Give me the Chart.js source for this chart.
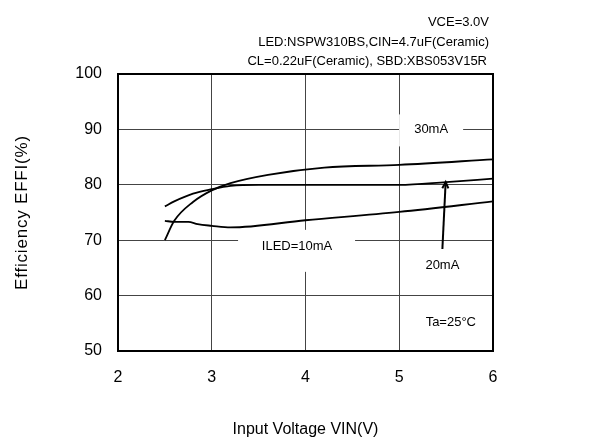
<!DOCTYPE html>
<html>
<head>
<meta charset="utf-8">
<script src="https://cdn.jsdelivr.net/npm/chart.js@4.4.1/dist/chart.umd.min.js"></script>
<style>
  html,body{margin:0;padding:0;background:#fff;}
  #wrap{width:606px;height:440px;position:relative;}
</style>
</head>
<body>
<div id="wrap"><canvas id="c" width="606" height="440"></canvas></div>
<script>
// ---- data ----
const xTicks = [2, 3, 4, 5, 6];
const yTicks = [50, 60, 70, 80, 90, 100];

const vin30 = [2.5, 2.6, 2.8, 3.0, 3.2, 3.6, 4.2, 5.0, 6.0];
const eff30 = [70.0, 73.5, 76.9, 79.0, 80.3, 81.8, 83.1, 83.6, 84.6];

const vin20 = [2.5, 2.6, 2.8, 3.0, 3.2, 3.5, 4.0, 5.0, 5.5, 6.0];
const eff20 = [76.1, 77.0, 78.4, 79.2, 79.8, 80.0, 80.0, 80.0, 80.5, 81.1];

const vin10 = [2.5, 2.6, 2.75, 2.85, 3.0, 3.2, 4.0, 5.0, 6.0];
const eff10 = [73.5, 73.3, 73.3, 72.9, 72.6, 72.3, 73.6, 75.1, 77.0];

const seriesNames = ['30mA', '20mA', 'ILED=10mA'];
const noteLines = ['VCE=3.0V', 'LED:NSPW310BS,CIN=4.7uF(Ceramic)', 'CL=0.22uF(Ceramic), SBD:XBS053V15R'];
const xTitle = 'Input Voltage VIN(V)';
const yTitle = 'Efficiency EFFI(%)';
const tempLabel = 'Ta=25°C';

// label anchor points in data units
const label30 = [5.34, 90];
const label10 = [3.91, 68.8];
const label20 = [5.46, 65.5];
const labelTa = [5.55, 55.1];
const arrowFrom = [5.46, 68.4];
const arrowTo = [5.495, 80.5];

const FONT = '"Liberation Sans", Arial, sans-serif';

function pts(xs, ys){ return xs.map((x,i)=>({x:x, y:ys[i]})); }

const lineStyle = {
  showLine: true, borderColor: '#000', borderWidth: 1.8, pointRadius: 0,
  fill: false, cubicInterpolationMode: 'monotone'
};

const annot = {
  id: 'annot',
  beforeDatasetsDraw(chart){
    const {ctx, scales:{x, y}} = chart;
    ctx.save();
    ctx.fillStyle = '#fff';
    // white boxes that interrupt grid lines behind the labels
    let cx = x.getPixelForValue(label30[0]), cy = y.getPixelForValue(label30[1]);
    ctx.fillRect(cx - 32, cy - 15, 64, 32);
    cx = x.getPixelForValue(label10[0]); cy = y.getPixelForValue(label10[1]);
    ctx.fillRect(cx - 59, cy - 17, 117, 42);
    ctx.restore();
  },
  afterDatasetsDraw(chart){
    const {ctx, chartArea:a, scales:{x, y}} = chart;
    ctx.save();
    ctx.fillStyle = '#000';
    ctx.font = '13px ' + FONT;
    ctx.textAlign = 'center';
    ctx.textBaseline = 'middle';
    ctx.fillText(seriesNames[0], x.getPixelForValue(label30[0]), y.getPixelForValue(label30[1]));
    ctx.fillText(seriesNames[2], x.getPixelForValue(label10[0]), y.getPixelForValue(label10[1]));
    ctx.fillText(seriesNames[1], x.getPixelForValue(label20[0]), y.getPixelForValue(label20[1]));
    ctx.fillText(tempLabel, x.getPixelForValue(labelTa[0]), y.getPixelForValue(labelTa[1]));

    // arrow
    const x0 = x.getPixelForValue(arrowFrom[0]), y0 = y.getPixelForValue(arrowFrom[1]);
    const x1 = x.getPixelForValue(arrowTo[0]), y1 = y.getPixelForValue(arrowTo[1]);
    ctx.strokeStyle = '#000';
    ctx.lineWidth = 2;
    ctx.beginPath(); ctx.moveTo(x0, y0); ctx.lineTo(x1, y1); ctx.stroke();
    const ang = Math.atan2(y1 - y0, x1 - x0);
    ctx.beginPath();
    ctx.moveTo(x1 - 7*Math.cos(ang - 0.45), y1 - 7*Math.sin(ang - 0.45));
    ctx.lineTo(x1, y1);
    ctx.lineTo(x1 - 7*Math.cos(ang + 0.45), y1 - 7*Math.sin(ang + 0.45));
    ctx.stroke();

    // frame
    ctx.lineWidth = 2;
    ctx.strokeRect(a.left, a.top, a.right - a.left, a.bottom - a.top);

    // notes above the frame
    ctx.font = '13px ' + FONT;
    ctx.textAlign = 'right';
    ctx.fillText(noteLines[0], a.right - 4, a.top - 52);
    ctx.fillText(noteLines[1], a.right - 4, a.top - 32);
    ctx.fillText(noteLines[2], a.right - 6, a.top - 13);

    // axis titles
    ctx.letterSpacing = '0.8px';
    ctx.font = '17px ' + FONT;
    ctx.textAlign = 'center';
    ctx.save();
    ctx.translate(22, (a.top + a.bottom)/2);
    ctx.rotate(-Math.PI/2);
    ctx.fillText(yTitle, 0, 0);
    ctx.restore();
    ctx.letterSpacing = '0px';
    ctx.font = '16px ' + FONT;
    ctx.fillText(xTitle, (a.left + a.right)/2, 430);
    ctx.restore();
  }
};

new Chart(document.getElementById('c'), {
  type: 'scatter',
  data: {
    datasets: [
      Object.assign({label: seriesNames[0], data: pts(vin30, eff30)}, lineStyle),
      Object.assign({label: seriesNames[1], data: pts(vin20, eff20)}, lineStyle),
      Object.assign({label: seriesNames[2], data: pts(vin10, eff10)}, lineStyle)
    ]
  },
  options: {
    responsive: false,
    animation: false,
    layout: { padding: { top: 74, right: 113, left: 0, bottom: 0 } },
    plugins: { legend: {display: false}, tooltip: {enabled: false}, title: {display: false} },
    scales: {
      x: {
        type: 'linear', min: xTicks[0], max: xTicks[xTicks.length-1],
        afterBuildTicks: s => { s.ticks = xTicks.map(v => ({value: v})); },
        afterFit: s => { s.height = 89; },
        grid: { color: '#444', lineWidth: 1, drawTicks: false },
        border: { color: '#000', width: 2 },
        ticks: { color: '#000', font: {size: 16, family: FONT}, padding: 17, maxRotation: 0 }
      },
      y: {
        type: 'linear', min: yTicks[0], max: yTicks[yTicks.length-1],
        afterBuildTicks: s => { s.ticks = yTicks.map(v => ({value: v})); },
        afterFit: s => { s.width = 118; },
        grid: { color: '#444', lineWidth: 1, drawTicks: false },
        border: { color: '#000', width: 2 },
        ticks: { color: '#000', font: {size: 16, family: FONT}, padding: 16 }
      }
    }
  },
  plugins: [annot]
});
</script>
</body>
</html>
